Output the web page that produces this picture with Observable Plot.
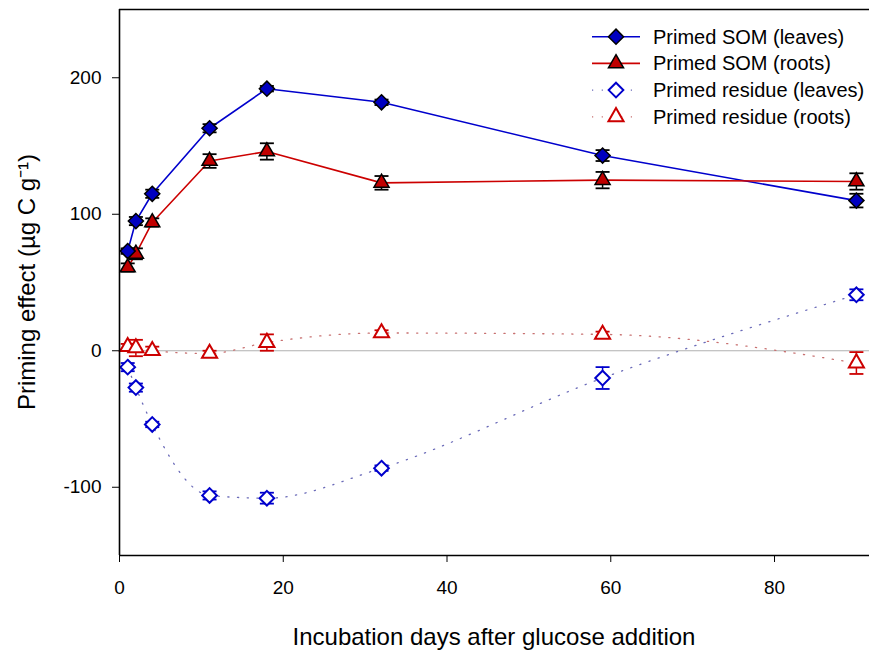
<!DOCTYPE html>
<html>
<head>
<meta charset="utf-8">
<script src="https://cdn.jsdelivr.net/npm/d3@7"></script>
<script src="https://cdn.jsdelivr.net/npm/@observablehq/plot@0.6"></script>
<style>
  html, body { margin: 0; padding: 0; background: #fff; }
  #chart { position: relative; width: 869px; height: 651px; }
</style>
</head>
<body>
<div id="chart"></div>
<script>
// ---- Data ----
const days = [1, 2, 4, 11, 18, 32, 59, 90];
const somLeaves     = [73, 95, 115, 163, 192, 182, 143, 110];
const somLeavesErr  = [2, 3, 3, 3, 2, 2, 4, 5];
const somRoots      = [61, 71, 94, 139, 146, 123, 125, 124];
const somRootsErr   = [3, 4, 3, 5, 6, 5, 6, 6];
const resLeaves     = [-12, -27, -54, -106, -108, -86, -20, 41];
const resLeavesErr  = [3, 3, 2, 3, 4, 2, 8, 4];
const resRoots      = [3, 2, 0, -2, 6, 13, 12, -9];
const resRootsErr   = [2, 6, 3, 2, 6, 2, 2, 8];

const seriesNames = ["Primed SOM (leaves)", "Primed SOM (roots)", "Primed residue (leaves)", "Primed residue (roots)"];
const xTicks = [0, 20, 40, 60, 80];
const yTicks = [-100, 0, 100, 200];
const xTitle = "Incubation days after glucose addition";
const yTitle = "Priming effect (µg C g⁻¹)";

const BLUE = "#0000cc", RED = "#cc0000";
const build = (vals, errs) => days.map((d, i) => ({day: d, value: vals[i], lo: vals[i] - errs[i], hi: vals[i] + errs[i]}));
const sL = build(somLeaves, somLeavesErr);
const sR = build(somRoots, somRootsErr);
const rL = build(resLeaves, resLeavesErr);
const rR = build(resRoots, resRootsErr);

// horizontal cap symbol for error bars
const cap = {draw(ctx, size) { const w = Math.sqrt(size / Math.PI); ctx.moveTo(-w, 0); ctx.lineTo(w, 0); }};

function errMarks(data, color) {
  return [
    Plot.ruleX(data, {x: "day", y1: "lo", y2: "hi", stroke: color, strokeWidth: 1.5}),
    Plot.dot(data, {x: "day", y: "lo", symbol: cap, r: 7, stroke: color, strokeWidth: 1.8, fill: "none"}),
    Plot.dot(data, {x: "day", y: "hi", symbol: cap, r: 7, stroke: color, strokeWidth: 1.8, fill: "none"})
  ];
}

const DOT = "1.2 8.5";
const DOT_BLUE = "#6a6ab8", DOT_RED = "#c87070";
const chart = Plot.plot({
  width: 869,
  height: 651,
  marginLeft: 119,
  marginRight: 0,
  marginTop: 9,
  marginBottom: 96,
  style: {fontFamily: "'Liberation Sans', Arial, sans-serif", fontSize: "19px", color: "#000", background: "#fff"},
  x: {domain: [0, 91.6], ticks: xTicks, tickSize: 7, tickPadding: 18, label: null, tickFormat: d => String(d)},
  y: {domain: [-150, 250], ticks: yTicks, tickSize: 7, tickPadding: 11, label: null, tickFormat: d => String(d)},
  marks: [
    Plot.ruleY([0], {stroke: "#b0b0b0", strokeWidth: 1.2}),
    // dotted residue curves
    Plot.line(rL, {x: "day", y: "value", stroke: DOT_BLUE, strokeWidth: 1.3, strokeDasharray: DOT, curve: "monotone-x"}),
    Plot.line(rR, {x: "day", y: "value", stroke: DOT_RED, strokeWidth: 1.3, strokeDasharray: DOT, curve: "monotone-x"}),
    // solid SOM lines
    Plot.line(sL, {x: "day", y: "value", stroke: BLUE, strokeWidth: 1.6}),
    Plot.line(sR, {x: "day", y: "value", stroke: RED, strokeWidth: 1.6}),
    // error bars
    ...errMarks(rL, BLUE),
    ...errMarks(rR, RED),
    ...errMarks(sR, "#000"),
    ...errMarks(sL, "#000"),
    // markers
    Plot.dot(rL, {x: "day", y: "value", symbol: "diamond2", r: 6.6, fill: "#fff", stroke: BLUE, strokeWidth: 2}),
    Plot.dot(rR, {x: "day", y: "value", symbol: "triangle", r: 5.6, fill: "#fff", stroke: RED, strokeWidth: 2}),
    Plot.dot(sR, {x: "day", y: "value", symbol: "triangle", r: 5.6, fill: "#c00000", stroke: "#000", strokeWidth: 1.5}),
    Plot.dot(sL, {x: "day", y: "value", symbol: "diamond2", r: 6.8, fill: "#0000c0", stroke: "#000", strokeWidth: 1.5}),
    // axis frame lines
    Plot.ruleX([0], {stroke: "#000", strokeWidth: 1.6}),
    Plot.ruleY([-150], {stroke: "#000", strokeWidth: 1.6}),
    Plot.ruleY([250], {stroke: "#000", strokeWidth: 1.6})
  ]
});
document.getElementById("chart").appendChild(chart);

// ---- titles and legend ----
const svg = d3.select(chart);
svg.append("text")
  .attr("x", 494).attr("y", 645)
  .attr("text-anchor", "middle")
  .attr("font-size", 24)
  .attr("fill", "#000")
  .text(xTitle);
svg.append("text")
  .attr("transform", "translate(35,282) rotate(-90)")
  .attr("text-anchor", "middle")
  .attr("font-size", 24)
  .attr("fill", "#000")
  .text(yTitle);

const legendItems = [
  {name: seriesNames[0], line: BLUE, dash: null, sym: d3.symbolDiamond2, size: Math.PI * 6.8 * 6.8, fill: "#0000c0", stroke: "#000", sw: 1.5},
  {name: seriesNames[1], line: RED, dash: null, sym: d3.symbolTriangle, size: Math.PI * 5.6 * 5.6, fill: "#c00000", stroke: "#000", sw: 1.5},
  {name: seriesNames[2], line: DOT_BLUE, dash: DOT, sym: d3.symbolDiamond2, size: Math.PI * 6.6 * 6.6, fill: "#fff", stroke: BLUE, sw: 2},
  {name: seriesNames[3], line: DOT_RED, dash: DOT, sym: d3.symbolTriangle, size: Math.PI * 5.6 * 5.6, fill: "#fff", stroke: RED, sw: 2}
];
const lg = svg.append("g").attr("text-anchor", "start");
legendItems.forEach((it, i) => {
  const y = 36.7 + i * 26.7;
  const row = lg.append("g");
  row.append("line")
    .attr("x1", 592).attr("x2", 640).attr("y1", y).attr("y2", y)
    .attr("stroke", it.line).attr("stroke-width", it.dash ? 1.3 : 1.6)
    .attr("stroke-dasharray", it.dash);
  row.append("path")
    .attr("d", d3.symbol(it.sym, it.size)())
    .attr("transform", `translate(616,${y})`)
    .attr("fill", it.fill).attr("stroke", it.stroke).attr("stroke-width", it.sw);
  row.append("text")
    .attr("x", 653).attr("y", y + 7)
    .attr("text-anchor", "start")
    .attr("font-size", 20).attr("fill", "#000")
    .text(it.name);
});
</script>
</body>
</html>
